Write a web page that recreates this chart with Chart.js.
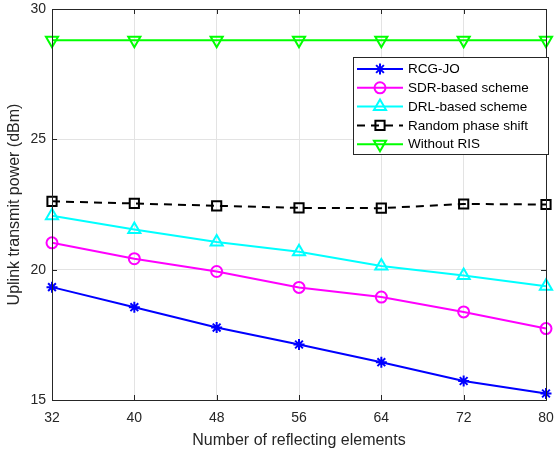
<!DOCTYPE html>
<html>
<head>
<meta charset="utf-8">
<script src="https://cdn.jsdelivr.net/npm/chart.js@4/dist/chart.umd.min.js"></script>
<style>
  html, body { margin: 0; padding: 0; background: #fff; }
  #wrap { width: 557px; height: 455px; }
</style>
</head>
<body>
<div id="wrap"><canvas id="powerChart" width="557" height="455"></canvas></div>
<script>
// number of RIS reflecting elements
const elements = [32, 40, 48, 56, 64, 72, 80];

// uplink transmit power (dBm)
const rcgJo      = [19.33, 18.56, 17.78, 17.13, 16.45, 15.73, 15.25];
const sdrBased   = [21.03, 20.42, 19.93, 19.32, 18.95, 18.38, 17.74];
const drlBased   = [22.07, 21.54, 21.06, 20.69, 20.14, 19.78, 19.36];
const randPhase  = [22.62, 22.54, 22.45, 22.37, 22.36, 22.52, 22.50];
const withoutRis = [28.8, 28.8, 28.8, 28.8, 28.8, 28.8, 28.8];

const seriesNames = ['RCG-JO', 'SDR-based scheme', 'DRL-based scheme', 'Random phase shift', 'Without RIS'];
const xTicks = [32, 40, 48, 56, 64, 72, 80];
const yTicks = [15, 20, 25, 30];

const axisColor = '#262626';
const fontFamily = '"Liberation Sans", Arial, Helvetica, sans-serif';

function pts(vals) {
    return vals.map((v, i) => ({ x: elements[i], y: v }));
}

function makeSet(label, vals, color, style, radius, extra) {
    return Object.assign({
        label: label,
        data: pts(vals),
        borderColor: color,
        backgroundColor: color,
        borderWidth: 2,
        pointStyle: style,
        pointRadius: radius,
        pointHoverRadius: radius,
        pointBorderColor: color,
        pointBackgroundColor: 'rgba(0,0,0,0)',
        pointBorderWidth: 2,
        tension: 0,
        fill: false,
        clip: false
    }, extra || {});
}

// frame on top/right plus inward tick marks like MATLAB
const framePlugin = {
    id: 'frame',
    afterDraw(chart) {
        const { ctx, chartArea: a, scales } = chart;
        ctx.save();
        ctx.strokeStyle = axisColor;
        ctx.lineWidth = 1;
        ctx.beginPath();
        ctx.rect(Math.round(a.left) + 0.5, Math.round(a.top) + 0.5,
                 Math.round(a.right - a.left), Math.round(a.bottom - a.top));
        ctx.stroke();
        ctx.beginPath();
        xTicks.forEach(t => {
            const x = Math.round(scales.x.getPixelForValue(t)) + 0.5;
            ctx.moveTo(x, a.bottom); ctx.lineTo(x, a.bottom - 5);
            ctx.moveTo(x, a.top); ctx.lineTo(x, a.top + 5);
        });
        yTicks.forEach(t => {
            const y = Math.round(scales.y.getPixelForValue(t)) + 0.5;
            ctx.moveTo(a.left, y); ctx.lineTo(a.left + 5, y);
            ctx.moveTo(a.right, y); ctx.lineTo(a.right - 5, y);
        });
        ctx.stroke();
        ctx.restore();
    }
};

// boxed legend inside the plot, upper right
const legendPlugin = {
    id: 'boxLegend',
    afterDraw(chart) {
        const ctx = chart.ctx;
        const box = { x: 353.5, y: 57.5, w: 195, h: 97 };
        ctx.save();
        ctx.fillStyle = '#fff';
        ctx.strokeStyle = axisColor;
        ctx.lineWidth = 1;
        ctx.fillRect(box.x, box.y, box.w, box.h);
        ctx.strokeRect(box.x, box.y, box.w, box.h);
        ctx.font = '13.5px ' + fontFamily;
        ctx.textBaseline = 'middle';
        ctx.textAlign = 'left';
        chart.data.datasets.forEach((ds, i) => {
            const y = 69 + i * 18.8;
            ctx.strokeStyle = ds.borderColor;
            ctx.lineWidth = 2;
            ctx.setLineDash(ds.borderDash || []);
            ctx.beginPath();
            ctx.moveTo(357, y); ctx.lineTo(403, y);
            ctx.stroke();
            ctx.setLineDash([]);
            ctx.fillStyle = 'rgba(0,0,0,0)';
            ctx.strokeStyle = ds.borderColor;
            ctx.lineWidth = 2;
            Chart.helpers.drawPoint(ctx, {
                pointStyle: ds.pointStyle,
                rotation: ds.pointRotation || 0,
                radius: ds.pointRadius,
                borderWidth: 2
            }, 380, y);
            ctx.fillStyle = '#000';
            ctx.fillText(ds.label, 408, y + 0.5);
        });
        ctx.restore();
    }
};

const ctx = document.getElementById('powerChart').getContext('2d');
window.myChart = new Chart(ctx, {
    type: 'line',
    data: {
        datasets: [
            makeSet(seriesNames[0], rcgJo, '#0000ff', 'star', 5.5),
            makeSet(seriesNames[1], sdrBased, '#ff00ff', 'circle', 5.5),
            makeSet(seriesNames[2], drlBased, '#00ffff', 'triangle', 7),
            makeSet(seriesNames[3], randPhase, '#000000', 'rect', 6.5, { borderDash: [8, 6] }),
            makeSet(seriesNames[4], withoutRis, '#00ff00', 'triangle', 7, { pointRotation: 180 })
        ]
    },
    options: {
        responsive: false,
        animation: false,
        devicePixelRatio: 1,
        layout: { padding: { left: 0, right: 11, top: 8, bottom: 0 } },
        plugins: {
            legend: { display: false },
            tooltip: { enabled: false }
        },
        scales: {
            x: {
                type: 'linear',
                min: 32, max: 80,
                afterBuildTicks: s => { s.ticks = xTicks.map(v => ({ value: v })); },
                afterFit: s => { s.height = 55; s.paddingLeft = 0; s.paddingRight = 0; },
                grid: { color: '#e3e3e3', drawTicks: false },
                border: { color: axisColor },
                ticks: { color: axisColor, padding: 10, maxRotation: 0, font: { family: fontFamily, size: 14 } },
                title: {
                    display: true,
                    text: 'Number of reflecting elements',
                    color: axisColor,
                    font: { family: fontFamily, size: 16 },
                    padding: { top: 0, bottom: 5 }
                }
            },
            y: {
                min: 15, max: 30,
                afterBuildTicks: s => { s.ticks = yTicks.map(v => ({ value: v })); },
                afterFit: s => { s.width = 52; s.paddingTop = 0; s.paddingBottom = 0; },
                grid: { color: '#e3e3e3', drawTicks: false },
                border: { color: axisColor },
                ticks: { color: axisColor, padding: 6, font: { family: fontFamily, size: 14 } },
                title: {
                    display: true,
                    text: 'Uplink transmit power (dBm)',
                    color: axisColor,
                    font: { family: fontFamily, size: 16 },
                    padding: { top: 5, bottom: 0 }
                }
            }
        }
    },
    plugins: [framePlugin, legendPlugin]
});
</script>
</body>
</html>
